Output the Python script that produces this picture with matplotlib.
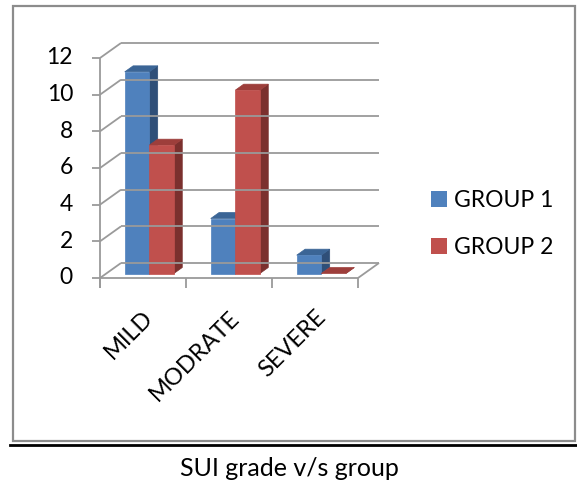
import numpy as np
import matplotlib.pyplot as plt
from matplotlib.patches import Polygon, Rectangle
from matplotlib.lines import Line2D

categories = ['MILD', 'MODRATE', 'SEVERE']
group1 = [11, 3, 1]
group2 = [7, 10, 0]
series_names = ['GROUP 1', 'GROUP 2']
yticks = [0, 2, 4, 6, 8, 10, 12]

plt.rcParams['font.family'] = ['Lato', 'DejaVu Sans']

W, H = 577, 483
fig = plt.figure(figsize=(W / 100, H / 100), dpi=100)


def fx(px):
    return px / W


def fy(py):
    return 1 - py / H


# front plane of the pseudo-3D box
ax = fig.add_axes([fx(100), fy(278), (358 - 100) / W, (278 - 58) / H])
ax.set_xlim(0, len(categories))
ax.set_ylim(0, 12)
ax.axis('off')

# data units per pixel, used for the oblique depth offsets
p0 = ax.transData.transform((0, 0))
p1 = ax.transData.transform((1, 1))
ux = 1.0 / (p1[0] - p0[0])
uy = 1.0 / (p1[1] - p0[1])
DX, DY = 21 * ux, 15 * uy

grid = '#9a9a9a'
glw = 1.3
ncat = len(categories)


def line(xs, ys):
    ax.plot(xs, ys, color=grid, lw=glw, clip_on=False, solid_capstyle='butt')


# back wall and left wall
for v in yticks:
    line([DX, ncat + DX], [v + DY, v + DY])
    line([0, DX], [v, v + DY])
    line([-8 * ux, 0], [v, v])
    ax.text(-27 * ux, v, str(v), ha='right', va='center', fontsize=16.5)

# floor and front axes
line([0, ncat], [0, 0])
line([ncat, ncat + DX], [0, DY])
line([0, 0], [-10 * uy, 12])
for i in range(ncat + 1):
    line([i, i], [0, -10 * uy])

# bars
bw = 1 / 3.5
f0, f1 = 0.3, 0.7
shades = [('#4F81BD', '#3B6596', '#2F4F78'),
          ('#C0504D', '#9D3E3B', '#7B302E')]
for i in range(ncat):
    for s, vals in enumerate([group1, group2]):
        v = vals[i]
        front, top, side = shades[s]
        x0 = i + 0.5 - bw + s * bw
        x1 = x0 + bw
        a, b = f0 * DX, f0 * DY
        c, d = f1 * DX, f1 * DY
        ax.add_patch(Polygon([(x1 + a, b), (x1 + c, d), (x1 + c, v + d), (x1 + a, v + b)],
                             closed=True, fc=side, ec=side, lw=0.5, clip_on=False))
        ax.add_patch(Polygon([(x0 + a, v + b), (x1 + a, v + b), (x1 + c, v + d), (x0 + c, v + d)],
                             closed=True, fc=top, ec=top, lw=0.5, clip_on=False))
        if v > 0:
            ax.add_patch(Polygon([(x0 + a, b), (x1 + a, b), (x1 + a, v + b), (x0 + a, v + b)],
                                 closed=True, fc=front, ec=front, lw=0.5, clip_on=False))

# rotated category labels
for i, cat in enumerate(categories):
    ax.annotate(cat, xy=(i + 0.5, 0), xytext=(5, -26), textcoords='offset points',
                rotation=45, ha='right', va='center', rotation_mode='anchor', fontsize=17)

handles = [Rectangle((0, 0), 1, 1, fc=shades[0][0]), Rectangle((0, 0), 1, 1, fc=shades[1][0])]
fig.legend(handles, series_names, loc='center left', bbox_to_anchor=(fx(410), fy(224)),
           frameon=False, fontsize=16.5, handlelength=0.72, handleheight=0.72,
           handletextpad=0.3, labelspacing=1.15)

# chart border, rule and caption
fig.add_artist(Rectangle((fx(13), fy(441)), (575 - 13) / W, (441 - 6) / H,
                         transform=fig.transFigure, fill=False, ec='#8c8c8c', lw=1.6))
fig.add_artist(Line2D([fx(10), 1], [fy(445), fy(445)], transform=fig.transFigure,
                      color='black', lw=2))
fig.text(fx(289), fy(468), 'SUI grade v/s group', ha='center', va='center', fontsize=18)

fig.savefig('out.png', dpi=100)
